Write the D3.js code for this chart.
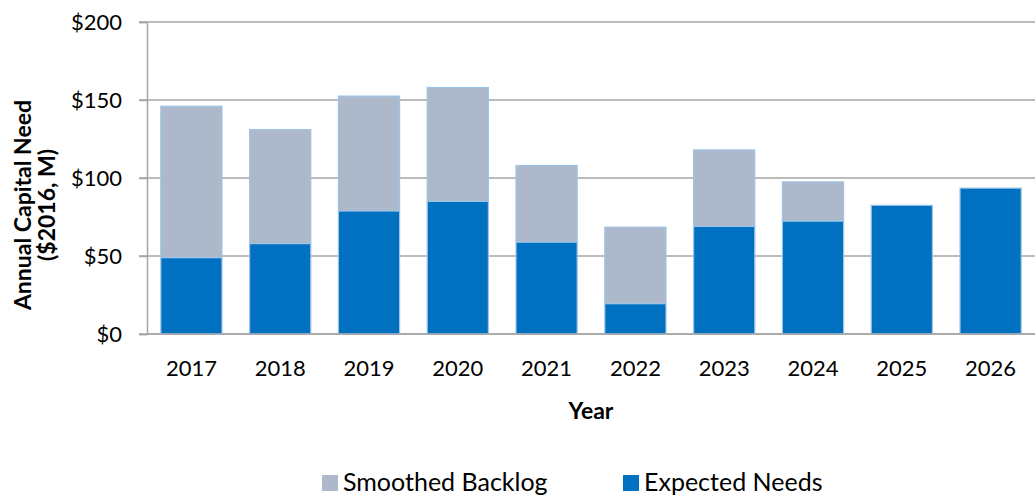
<!DOCTYPE html>
<html>
<head>
<meta charset="utf-8">
<script src="https://cdn.jsdelivr.net/npm/d3@7"></script>
<style>
  html, body { margin: 0; padding: 0; background: #fff; }
  svg { display: block; font-family: Lato, "Open Sans", "Liberation Sans", sans-serif; }
</style>
</head>
<body>
<svg id="chart" width="1035" height="495"></svg>
<script>
// Annual capital need by year, in $2016 millions
const years = ["2017", "2018", "2019", "2020", "2021", "2022", "2023", "2024", "2025", "2026"];
const expectedNeeds = [49, 58, 79, 85, 59, 19.5, 69, 72.5, 82.5, 93.5];
const smoothedBacklog = [97, 73, 73.5, 73, 49, 49, 49, 25, 0, 0];
const yTicks = [0, 50, 100, 150, 200];
const seriesNames = ["Expected Needs", "Smoothed Backlog"];
const seriesColors = ["#0070C0", "#ADB9CA"];

const svg = d3.select("#chart");
const margin = { left: 147, right: 0, top: 22, bottom: 161 };
const W = 1035, H = 495;

const x = d3.scaleBand().domain(years)
  .range([margin.left, W - margin.right]).paddingInner(0.3).paddingOuter(0.15);
const y = d3.scaleLinear().domain([0, 200]).range([H - margin.bottom, margin.top]);

// Gridlines
svg.append("g").selectAll("line").data(yTicks).join("line")
  .attr("x1", margin.left - 8).attr("x2", W)
  .attr("y1", d => y(d)).attr("y2", d => y(d))
  .attr("stroke", "#A6A6A6").attr("stroke-width", 1.5);

// Stacked bars
const rows = years.map((yr, i) => ({ year: yr, "Expected Needs": expectedNeeds[i], "Smoothed Backlog": smoothedBacklog[i] }));
const stack = d3.stack().keys(seriesNames)(rows);
const color = d3.scaleOrdinal().domain(seriesNames).range(seriesColors);

svg.append("g").selectAll("g").data(stack).join("g")
  .attr("fill", d => color(d.key))
  .selectAll("rect").data(d => d.filter(p => p[1] - p[0] > 0)).join("rect")
  .attr("x", d => x(d.data.year) + 0.5)
  .attr("width", x.bandwidth() - 1)
  .attr("y", d => y(d[1]))
  .attr("height", d => y(d[0]) - y(d[1]))
  .attr("stroke", "#9DC3E6").attr("stroke-width", 1.2);

// Y axis
const yAxis = d3.axisLeft(y).tickValues(yTicks).tickSize(8).tickPadding(17)
  .tickFormat(d => "$" + d);
const ya = svg.append("g").attr("transform", `translate(${margin.left},0)`).call(yAxis);
ya.select(".domain").attr("stroke", "#A6A6A6").attr("stroke-width", 1.5);
ya.selectAll(".tick line").attr("stroke", "#A6A6A6").attr("stroke-width", 1.5);
ya.selectAll("text").attr("font-size", 22).attr("fill", "#000")
  .style("font-family", "Lato, 'Open Sans', sans-serif");

// X axis
const xAxis = d3.axisBottom(x).tickSize(0).tickPadding(26);
const xa = svg.append("g").attr("transform", `translate(0,${y(0)})`).call(xAxis);
xa.select(".domain").attr("stroke", "#A6A6A6").attr("stroke-width", 1.5)
  .attr("d", `M${margin.left},0H${W}`);
xa.selectAll("text").attr("font-size", 22).attr("fill", "#000")
  .style("font-family", "Lato, 'Open Sans', sans-serif");

// Axis titles
svg.append("text").attr("x", 591).attr("y", 419)
  .attr("text-anchor", "middle").attr("font-size", 23).attr("font-weight", "bold")
  .text("Year");

const yt = svg.append("text").attr("transform", `translate(0,205) rotate(-90)`)
  .attr("text-anchor", "middle").attr("font-size", 23).attr("font-weight", "bold");
yt.append("tspan").attr("x", 0).attr("y", 31).text("Annual Capital Need");
yt.append("tspan").attr("x", 0).attr("y", 55).text("($2016, M)");

// Legend
const legendItems = [
  { name: "Smoothed Backlog", x: 322 },
  { name: "Expected Needs", x: 623 }
];
const lg = svg.append("g").selectAll("g").data(legendItems).join("g")
  .attr("transform", d => `translate(${d.x},475)`);
lg.append("rect").attr("width", 16).attr("height", 16).attr("fill", d => color(d.name));
lg.append("text").attr("x", 21).attr("y", 16).attr("font-size", 25).text(d => d.name);
</script>
</body>
</html>
